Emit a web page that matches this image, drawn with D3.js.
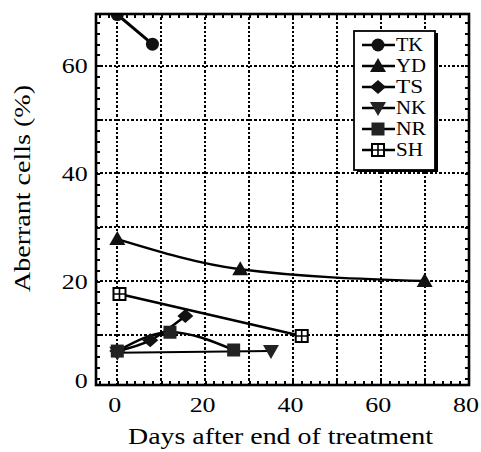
<!DOCTYPE html>
<html>
<head>
<meta charset="utf-8">
<script src="https://cdn.jsdelivr.net/npm/d3@7"></script>
<style>
  html, body { margin: 0; padding: 0; background: #fff; }
  svg { display: block; }
  text { font-family: "Liberation Serif", "Times New Roman", serif; fill: #000; }
</style>
</head>
<body>
<svg id="chart" width="481" height="452"></svg>
<script>
// Aberrant cell percentage after the end of treatment, one series per subject
const seriesNames = ["TK", "YD", "TS", "NK", "NR", "SH"];
const daysTK = [0, 8];          const pctTK = [69.5, 64];
const daysYD = [0, 28, 70];     const pctYD = [27.8, 22.2, 20];
const daysTS = [0, 7.5, 15.5];  const pctTS = [7, 9, 13.5];
const daysNK = [0, 35];         const pctNK = [6.7, 7];
const daysNR = [0, 12, 26.5];   const pctNR = [7, 10.5, 7.2];
const daysSH = [0.5, 42];       const pctSH = [17.6, 9.8];
const xTickLabels = [0, 20, 40, 60, 80];
const yTickLabels = [0, 20, 40, 60];
const xTitle = "Days after end of treatment";
const yTitle = "Aberrant cells (%)";

const serif = "'Liberation Serif', 'Times New Roman', serif";

const series = [
  { name: seriesNames[0], marker: "circle",  days: daysTK, pct: pctTK, width: 3 },
  { name: seriesNames[1], marker: "triUp",   days: daysYD, pct: pctYD, width: 2.5 },
  { name: seriesNames[2], marker: "diamond", days: daysTS, pct: pctTS, width: 2.5 },
  { name: seriesNames[3], marker: "triDown", days: daysNK, pct: pctNK, width: 2 },
  { name: seriesNames[4], marker: "square",  days: daysNR, pct: pctNR, width: 2.5 },
  { name: seriesNames[5], marker: "boxed",   days: daysSH, pct: pctSH, width: 2.5 }
];

const svg = d3.select("#chart");
const L = 96, R = 469, T = 14, B = 385;

const x = d3.scaleLinear().domain([-4.85, 80.1]).range([L, R]);
const y = d3.scaleLinear().domain([0.7, 69.6]).range([B, T]);
const yLab = y.copy().clamp(true);

// dotted grid every 10 units
const grid = svg.append("g").attr("stroke", "#000").attr("stroke-width", 2)
  .attr("stroke-dasharray", "2.4,2").attr("fill", "none").attr("shape-rendering", "crispEdges");
d3.range(0, 80, 10).forEach(v => {
  const gx = Math.round(x(v));
  grid.append("line").attr("x1", gx).attr("x2", gx).attr("y1", B).attr("y2", T);
});
d3.range(10, 70, 10).forEach(v => {
  const gy = Math.round(y(v));
  grid.append("line").attr("x1", L).attr("x2", R).attr("y1", gy).attr("y2", gy);
});

// inward frame ticks on all four sides
const xMinor = d3.range(-4, 81, 2);
const yMinor = d3.range(2, 70, 2);
function frameAxis(axis, ticks, tf) {
  const g = svg.append("g").attr("transform", tf)
    .call(axis.tickValues(ticks).tickSize(-4).tickFormat(""));
  g.select(".domain").remove();
  g.selectAll(".tick line").attr("stroke", "#000").attr("stroke-width", 2)
    .attr("shape-rendering", "crispEdges");
}
frameAxis(d3.axisBottom(x), xMinor, `translate(0,${B})`);
frameAxis(d3.axisTop(x), xMinor, `translate(0,${T})`);
frameAxis(d3.axisLeft(y), yMinor, `translate(${L},0)`);
frameAxis(d3.axisRight(y), yMinor, `translate(${R},0)`);

// tick labels (the typeface is set a little wide)
const xAx = svg.append("g").attr("transform", `translate(-3,${B})`)
  .call(d3.axisBottom(x).tickValues(xTickLabels).tickSize(0).tickPadding(11));
xAx.attr("font-family", serif).attr("font-size", 22);
xAx.select(".domain").remove();
xAx.selectAll("text").style("font-size", "22px").style("font-family", serif).attr("fill", "#000")
  .attr("transform", "scale(1.18,1)");
const yAx = svg.append("g").attr("transform", `translate(${L},0)`)
  .call(d3.axisLeft(yLab).tickValues(yTickLabels).tickSize(0).tickPadding(7));
yAx.attr("font-family", serif).attr("font-size", 22);
yAx.select(".domain").remove();
yAx.selectAll("text").style("font-size", "22px").style("font-family", serif).attr("fill", "#000")
  .attr("dy", (d) => d === 0 ? "0.1em" : "0.32em")
  .attr("transform", "scale(1.18,1)");

// marker shapes
function drawMarker(g, type) {
  switch (type) {
    case "circle":
      g.append("circle").attr("r", 6.5).attr("fill", "#111"); break;
    case "triUp":
      g.append("path").attr("d", "M0,-8L8,6L-8,6Z").attr("fill", "#111"); break;
    case "triDown":
      g.append("path").attr("d", "M0,8L8,-6L-8,-6Z").attr("fill", "#222"); break;
    case "diamond":
      g.append("path").attr("d", "M0,-7L8,0L0,7L-8,0Z").attr("fill", "#111"); break;
    case "square":
      g.append("rect").attr("x", -6.5).attr("y", -6.5).attr("width", 13).attr("height", 13).attr("fill", "#222"); break;
    case "boxed":
      g.append("rect").attr("x", -6).attr("y", -6).attr("width", 12).attr("height", 12)
        .attr("fill", "#fff").attr("stroke", "#000").attr("stroke-width", 2);
      g.append("path").attr("d", "M0,-6V6M-6,0H6").attr("stroke", "#000").attr("stroke-width", 1.6);
      break;
  }
}

// data, clipped to the plotting frame
svg.append("clipPath").attr("id", "plotClip").append("rect")
  .attr("x", L).attr("y", T).attr("width", R - L).attr("height", B - T);
const plot = svg.append("g").attr("clip-path", "url(#plotClip)");
const line = d3.line().curve(d3.curveMonotoneX);
series.forEach(s => {
  const pts = s.days.map((d, i) => [x(d), y(s.pct[i])]);
  plot.append("path").attr("d", line(pts)).attr("fill", "none")
    .attr("stroke", "#000").attr("stroke-width", s.width);
});
series.forEach(s => {
  s.days.forEach((d, i) => {
    const g = plot.append("g").attr("transform", `translate(${x(d)},${y(s.pct[i])})`);
    drawMarker(g, s.marker);
  });
});

// frame
svg.append("rect").attr("x", L).attr("y", T).attr("width", R - L).attr("height", B - T)
  .attr("fill", "none").attr("stroke", "#000").attr("stroke-width", 2.6);

// legend box with drop shadow
const lgX = 354, lgY = 31, lgW = 81, lgH = 139;
svg.append("rect").attr("x", lgX + 3).attr("y", lgY + 2).attr("width", lgW).attr("height", lgH).attr("fill", "#000");
svg.append("rect").attr("x", lgX).attr("y", lgY).attr("width", lgW).attr("height", lgH)
  .attr("fill", "#fff").attr("stroke", "#000").attr("stroke-width", 1.8);
series.forEach((s, i) => {
  const cy = 45 + i * 21;
  svg.append("line").attr("x1", 362).attr("x2", 395).attr("y1", cy).attr("y2", cy)
    .attr("stroke", "#000").attr("stroke-width", 2.5);
  drawMarker(svg.append("g").attr("transform", `translate(378,${cy})`), s.marker);
  svg.append("text").attr("x", 396).attr("y", cy).attr("dy", "0.35em")
    .style("font-family", serif).style("font-size", "18px")
    .attr("textLength", s.name === "YD" || s.name === "NK" || s.name === "NR" ? 30 : 27)
    .attr("lengthAdjust", "spacingAndGlyphs").text(s.name);
});

// axis titles
svg.append("text").attr("x", 128).attr("y", 444)
  .attr("textLength", 305).attr("lengthAdjust", "spacingAndGlyphs")
  .style("font-family", serif).style("font-size", "23px").text(xTitle);
svg.append("text").attr("transform", `translate(30,292) rotate(-90)`)
  .attr("textLength", 207).attr("lengthAdjust", "spacingAndGlyphs")
  .style("font-family", serif).style("font-size", "23px").text(yTitle);
</script>
</body>
</html>
